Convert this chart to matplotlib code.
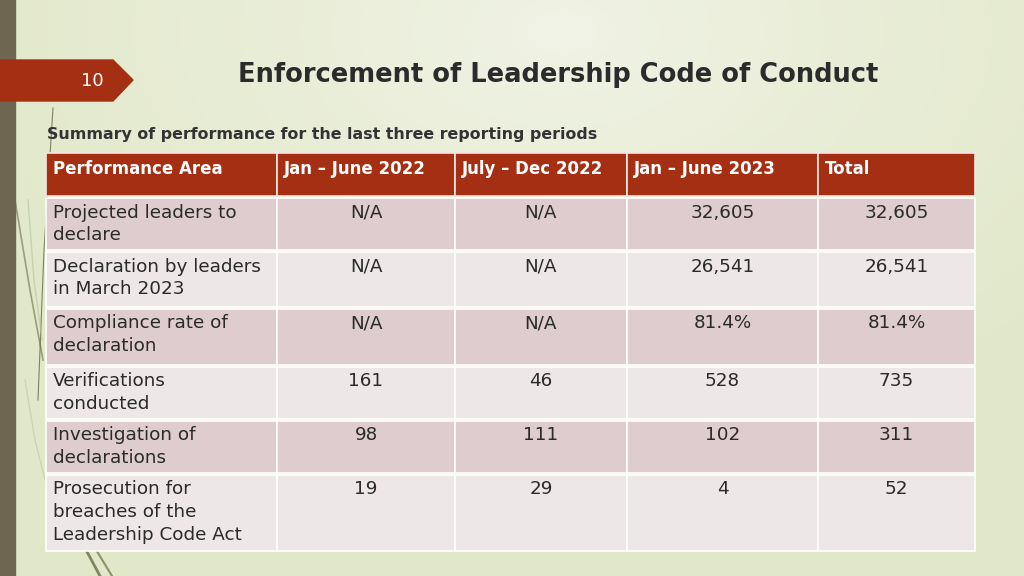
import numpy as np
import matplotlib.pyplot as plt
from matplotlib.patches import Rectangle, Polygon

# Dati della tabella
title = 'Enforcement of Leadership Code of Conduct'
subtitle = 'Summary of performance for the last three reporting periods'
page_num = '10'
headers = ['Performance Area', 'Jan \u2013 June 2022', 'July \u2013 Dec 2022', 'Jan \u2013 June 2023', 'Total']
areas = ['Projected leaders to\ndeclare',
         'Declaration by leaders\nin March 2023',
         'Compliance rate of\ndeclaration',
         'Verifications\nconducted',
         'Investigation of\ndeclarations',
         'Prosecution for\nbreaches of the\nLeadership Code Act']
jan_jun_2022 = ['N/A', 'N/A', 'N/A', '161', '98', '19']
jul_dec_2022 = ['N/A', 'N/A', 'N/A', '46', '111', '29']
jan_jun_2023 = ['32,605', '26,541', '81.4%', '528', '102', '4']
total = ['32,605', '26,541', '81.4%', '735', '311', '52']

# Layout in pixel
col_x = [46, 277, 455, 627, 818, 975]
row_y = [153, 196, 250, 307, 365, 419, 473, 551]

red = '#a52f13'
dark_row = '#dfcccf'
light_row = '#ede7e8'
text_col = '#2a2a2a'

plt.rcParams['font.family'] = 'DejaVu Sans'

fig = plt.figure(figsize=(10.24, 5.76), dpi=100)
ax = fig.add_axes([0, 0, 1, 1])
ax.set_xlim(0, 1024)
ax.set_ylim(576, 0)
ax.axis('off')

# Sfondo con gradiente
yy, xx = np.mgrid[0:576:4, 0:1024:4]
d = np.sqrt(((xx - 560) / 650.0) ** 2 + ((yy - 30) / 420.0) ** 2)
d = np.clip(d, 0, 1) ** 0.8
c0 = np.array([0.945, 0.955, 0.905])
c1 = np.array([0.885, 0.91, 0.79])
img = c0[None, None, :] * (1 - d[..., None]) + c1[None, None, :] * d[..., None]
ax.imshow(img, extent=[0, 1024, 576, 0], aspect='auto', zorder=0)

# Striscia a sinistra
ax.add_patch(Rectangle((0, 0), 15, 576, color='#6e6650', zorder=1))

# Linee decorative
ax.plot([53, 44, 38], [108, 250, 400], color='#55553a', lw=0.8, alpha=0.7, zorder=1)
ax.plot([15, 30, 43], [200, 290, 360], color='#6b6b45', lw=1.2, alpha=0.6, zorder=1)
ax.plot([28, 34, 42], [200, 280, 340], color='#b8c09a', lw=1.0, alpha=0.6, zorder=1)
ax.plot([25, 35, 45], [380, 440, 480], color='#b8c09a', lw=1.0, alpha=0.5, zorder=1)
ax.plot([85, 100], [548, 576], color='#6b6b45', lw=2.0, alpha=0.8, zorder=1)
ax.plot([95, 112], [548, 576], color='#6b6b45', lw=1.5, alpha=0.7, zorder=1)

# Etichetta numero pagina
ax.add_patch(Polygon([[0, 60], [113, 60], [133, 80], [113, 101], [0, 101]],
                     closed=True, color=red, zorder=2))
ax.text(92, 81, page_num, color='white', fontsize=13, ha='center', va='center', zorder=3)

# Titoli
ax.text(558, 75, title, color='#2b2b2b', fontsize=18.5, fontweight='bold',
        ha='center', va='center', zorder=3)
ax.text(47, 135, subtitle, color='#333333', fontsize=11.4, fontweight='bold',
        ha='left', va='center', zorder=3)

# Intestazione
for j, h in enumerate(headers):
    ax.add_patch(Rectangle((col_x[j], row_y[0]), col_x[j + 1] - col_x[j], row_y[1] - row_y[0],
                           facecolor=red, edgecolor='#f3e6e0', lw=1.2, zorder=2))
    ax.text(col_x[j] + 7, (row_y[0] + row_y[1]) / 2 - 6, h, color='white', fontsize=12,
            fontweight='bold', ha='left', va='center', zorder=3)

# Righe
cols = [areas, jan_jun_2022, jul_dec_2022, jan_jun_2023, total]
for i in range(len(areas)):
    fc = dark_row if i % 2 == 0 else light_row
    top = row_y[i + 1] + 1.5
    for j in range(5):
        ax.add_patch(Rectangle((col_x[j], top), col_x[j + 1] - col_x[j], row_y[i + 2] - top,
                               facecolor=fc, edgecolor='white', lw=1.2, zorder=2))
        if j == 0:
            ax.text(col_x[j] + 7, top + 6, cols[j][i], color=text_col, fontsize=13.2,
                    ha='left', va='top', linespacing=1.35, zorder=3)
        else:
            ax.text((col_x[j] + col_x[j + 1]) / 2, top + 6, cols[j][i], color=text_col,
                    fontsize=13.2, ha='center', va='top', zorder=3)

fig.savefig('out.png', dpi=100)
